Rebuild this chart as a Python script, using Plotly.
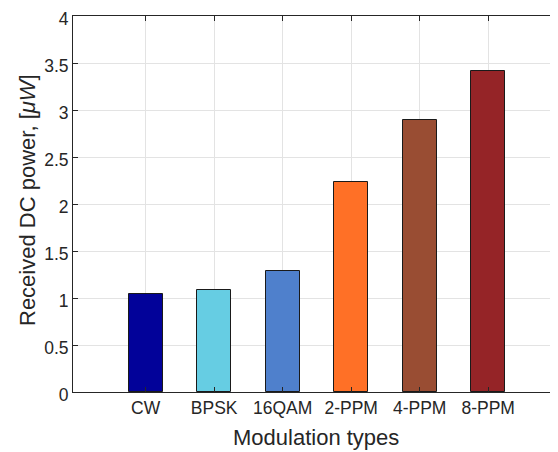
import plotly.graph_objects as go

categories = ["CW", "BPSK", "16QAM", "2-PPM", "4-PPM", "8-PPM"]
positions = [1, 2, 3, 4, 5, 6]
values = [1.04, 1.09, 1.29, 2.23, 2.89, 3.42]
colors = ["#020299", "#66CDE3", "#4F80CC", "#FF7026", "#994D33", "#952427"]
y_ticks = [0, 0.5, 1, 1.5, 2, 2.5, 3, 3.5, 4]
y_tick_labels = ["0", "0.5", "1", "1.5", "2", "2.5", "3", "3.5", "4"]
x_title = "Modulation types"
y_title = "Received DC power, [<i>μW</i>]"

fig = go.Figure()
fig.add_trace(go.Bar(
    x=positions, y=values, width=0.5,
    marker=dict(color=colors, line=dict(color="#1a1a1a", width=1)),
    showlegend=False,
))

font = "Liberation Sans, Arial, Helvetica, sans-serif"
# The page body adds an 8px margin, so the figure is sized/offset to compensate.
fig.update_layout(
    width=550, height=444,
    margin=dict(l=65, r=0, t=8, b=60),
    paper_bgcolor="white", plot_bgcolor="white",
    font=dict(family=font, color="#262626"),
    bargap=0,
)
fig.update_xaxes(
    range=[1 - 72.7 / 68.5, 1 + (558 - 145.7) / 68.5],
    tickmode="array", tickvals=positions, ticktext=categories,
    tickfont=dict(size=17.5, color="#262626"),
    ticks="inside", ticklen=5, tickcolor="#262626",
    showline=True, linecolor="#262626", linewidth=1, mirror="ticks",
    showgrid=True, gridcolor="#e3e3e3", gridwidth=1,
    zeroline=False, automargin=False, ticklabeloverflow="allow",
)
fig.update_yaxes(
    range=[0, 4],
    tickmode="array", tickvals=y_ticks, ticktext=y_tick_labels,
    tickfont=dict(size=17.5, color="#262626"),
    ticks="inside", ticklen=5, tickcolor="#262626",
    showline=True, linecolor="#262626", linewidth=1, mirror="ticks",
    showgrid=True, gridcolor="#e3e3e3", gridwidth=1,
    zeroline=False, automargin=False, ticklabeloverflow="allow",
    ticklabelshift=3,
)
fig.add_annotation(
    text=x_title, xref="paper", yref="paper", x=0.5, y=0,
    xanchor="center", yanchor="middle", yshift=-45, showarrow=False,
    font=dict(size=22, color="#262626"),
)
fig.add_annotation(
    text=y_title, xref="paper", yref="paper", x=0, y=0.5,
    xanchor="center", yanchor="middle", xshift=-46, yshift=4,
    textangle=-90, showarrow=False,
    font=dict(size=22, color="#262626"),
)

fig.write_html("out.html")
